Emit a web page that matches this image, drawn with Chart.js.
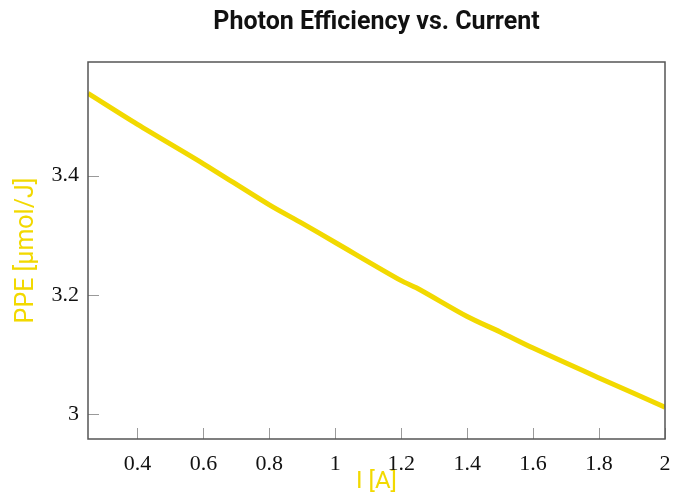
<!DOCTYPE html>
<html>
<head>
<meta charset="utf-8">
<script src="https://cdn.jsdelivr.net/npm/chart.js@4"></script>
<style>
html,body{margin:0;padding:0;background:#fff;}
#wrap{width:688px;height:497px;position:relative;}
</style>
</head>
<body>
<div id="wrap"><canvas id="c" width="688" height="497"></canvas></div>
<script>
const chartTitle = "Photon Efficiency vs. Current";
const xLabel = "I [A]";
const yLabel = "PPE [µmol/J]";
const currentA = [0.25, 0.4, 0.6, 0.8, 0.9, 1.0, 1.2, 1.25, 1.4, 1.5, 1.6, 1.8, 2.0];
const ppe = [3.538, 3.486, 3.420, 3.351, 3.320, 3.288, 3.224, 3.211, 3.164, 3.138, 3.111, 3.061, 3.012];
const xTicks = [0.4, 0.6, 0.8, 1, 1.2, 1.4, 1.6, 1.8, 2];
const yTicks = [3, 3.2, 3.4];

const yellow = "#f2d900";
const serif = "'Liberation Serif', serif";
const sans = "Roboto, 'Noto Sans', sans-serif";

const framePlugin = {
  id: 'frame',
  afterDraw(chart) {
    const {ctx, chartArea: a} = chart;
    const xs = chart.scales.x, ys = chart.scales.y;
    ctx.save();
    ctx.strokeStyle = "#9a9a9a";
    ctx.lineWidth = 1;
    ctx.beginPath();
    xTicks.forEach(v => {
      const px = Math.round(xs.getPixelForValue(v)) + 0.5;
      ctx.moveTo(px, a.bottom);
      ctx.lineTo(px, a.bottom - 11);
    });
    yTicks.forEach(v => {
      const py = Math.round(ys.getPixelForValue(v)) + 0.5;
      ctx.moveTo(a.left, py);
      ctx.lineTo(a.left + 11, py);
    });
    ctx.stroke();
    ctx.strokeStyle = "#555";
    ctx.lineWidth = 1.5;
    ctx.strokeRect(a.left, a.top, a.right - a.left, a.bottom - a.top);
    ctx.fillStyle = "#111";
    ctx.font = "bold 25px " + sans;
    ctx.textAlign = "center";
    ctx.textBaseline = "middle";
    ctx.fillText(chartTitle, (a.left + a.right) / 2, 23);
    ctx.restore();
  }
};

new Chart(document.getElementById('c'), {
  type: 'line',
  data: {
    datasets: [{
      data: currentA.map((x, i) => ({x: x, y: ppe[i]})),
      borderColor: yellow,
      borderWidth: 5,
      pointRadius: 0,
      tension: 0.3,
      fill: false
    }]
  },
  options: {
    responsive: false,
    animation: false,
    layout: {padding: {top: 62, right: 23, left: 0, bottom: 0}},
    plugins: {legend: {display: false}, tooltip: {enabled: false}, title: {display: false}},
    scales: {
      x: {
        type: 'linear', min: 0.25, max: 2,
        afterFit: s => { s.height = 58; },
        afterBuildTicks: s => { s.ticks = xTicks.map(v => ({value: v})); },
        grid: {display: false, drawTicks: false},
        border: {display: false},
        ticks: {color: "#111", font: {family: serif, size: 22}, padding: 12,
                maxRotation: 0, autoSkip: false, callback: v => String(v)},
        title: {display: true, text: xLabel, color: yellow,
                font: {family: sans, size: 24}, padding: {top: 0, bottom: 1}}
      },
      y: {
        type: 'linear', min: 2.9586, max: 3.5906,
        afterFit: s => { s.width = 88; },
        afterBuildTicks: s => { s.ticks = yTicks.map(v => ({value: v})); },
        grid: {display: false, drawTicks: false},
        border: {display: false},
        ticks: {color: "#111", font: {family: serif, size: 22}, padding: 9,
                autoSkip: false, callback: v => String(v)},
        title: {display: true, text: yLabel, color: yellow,
                font: {family: sans, size: 25}, padding: {top: 12, bottom: 0}}
      }
    }
  },
  plugins: [framePlugin]
});
</script>
</body>
</html>
